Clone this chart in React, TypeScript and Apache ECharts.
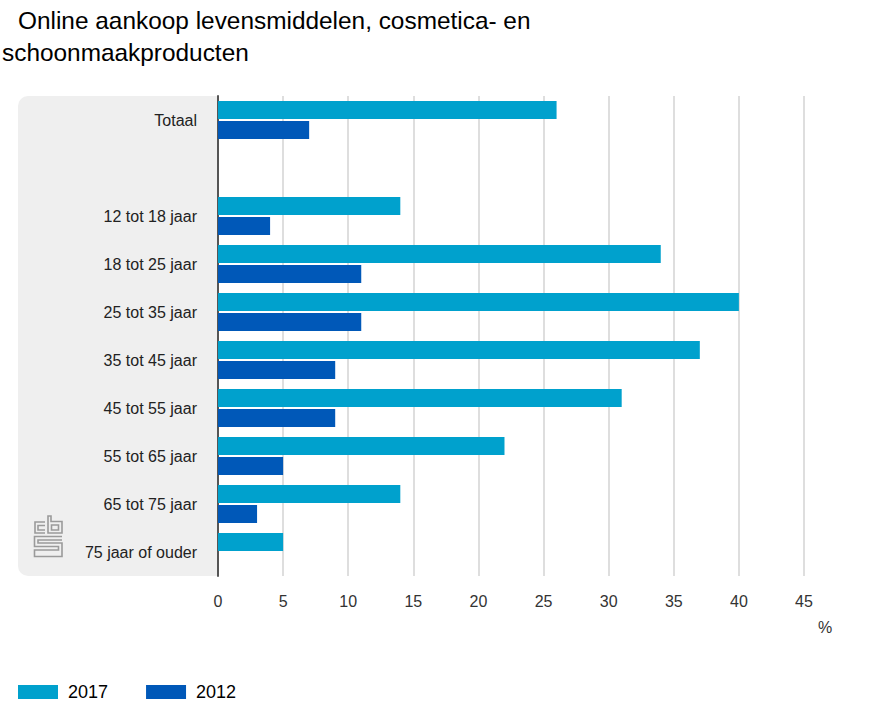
import React, { useEffect, useRef } from "react";
import * as echarts from "echarts";

const categories = [
  "Totaal",
  "",
  "12 tot 18 jaar",
  "18 tot 25 jaar",
  "25 tot 35 jaar",
  "35 tot 45 jaar",
  "45 tot 55 jaar",
  "55 tot 65 jaar",
  "65 tot 75 jaar",
  "75 jaar of ouder",
];
const values2017 = [26, null, 14, 34, 40, 37, 31, 22, 14, 5];
const values2012 = [7, null, 4, 11, 11, 9, 9, 5, 3, null];
const xTicks = { min: 0, max: 45, interval: 5 };

const logoD =
  "M45 522 H35 V533 H45 M45 525.5 H38 V530 H45 " +
  "M48 516 V533 H62 V521.5 H51 V516 Z M51.5 525 H58.5 V530 H51.5 Z " +
  "M62 536.5 H34.5 V546.5 H58.5 V550 H34.5 V556.5 H62 V543 H38 V540 H62";

let registered = false;

export default function App() {
  const ref = useRef<HTMLDivElement>(null);
  useEffect(() => {
    if (!registered) {
      echarts.graphic.registerShape("logo", echarts.graphic.extendPath(logoD, {}) as any);
      registered = true;
    }
    const chart = echarts.init(ref.current!, null, { renderer: "svg" });
    const font = "Arial, 'Liberation Sans', sans-serif";
    chart.setOption({
      animation: false,
      textStyle: { fontFamily: font },
      grid: { left: 218, right: 66, top: 96, height: 480, containLabel: false },
      legend: {
        left: 18,
        top: 683,
        padding: 0,
        itemWidth: 40,
        itemHeight: 14,
        itemGap: 38,
        icon: "rect",
        textStyle: { fontSize: 18, color: "#000", padding: [0, 0, 0, 5], fontFamily: font },
        data: ["2017", "2012"],
      },
      xAxis: {
        type: "value",
        min: xTicks.min,
        max: xTicks.max,
        interval: xTicks.interval,
        axisLine: { show: false },
        axisTick: { show: false },
        splitLine: { show: true, lineStyle: { color: "#dedede", width: 2 } },
        axisLabel: { color: "#333", fontSize: 16, margin: 17, fontFamily: font },
      },
      yAxis: {
        type: "category",
        inverse: true,
        data: categories,
        axisLine: { show: true, lineStyle: { color: "#555", width: 2 } },
        axisTick: { show: false },
        axisLabel: { color: "#222", fontSize: 16, margin: 21, fontFamily: font },
      },
      series: [
        {
          name: "2017",
          type: "bar",
          data: values2017,
          barWidth: 18,
          barGap: "11%",
          itemStyle: { color: "#00a1cd" },
        },
        {
          name: "2012",
          type: "bar",
          data: values2012,
          barWidth: 18,
          barGap: "11%",
          itemStyle: { color: "#0058b8" },
        },
      ],
      graphic: [
        {
          type: "rect",
          z: -10,
          silent: true,
          shape: { x: 18, y: 96, width: 200, height: 480, r: [10, 0, 0, 10] },
          style: { fill: "#efefef" },
        },
        {
          type: "logo",
          z: 10,
          x: 0,
          y: 0,
          style: { fill: null, stroke: "#9a9a9a", lineWidth: 1.6 },
        },
        {
          type: "text",
          x: 18,
          y: 8,
          style: { text: "Online aankoop levensmiddelen, cosmetica- en", fontSize: 24.4, fill: "#000", fontFamily: font },
        },
        {
          type: "text",
          x: 2,
          y: 40,
          style: { text: "schoonmaakproducten", fontSize: 24.4, fill: "#000", fontFamily: font },
        },
        {
          type: "text",
          x: 818,
          y: 619,
          style: { text: "%", fontSize: 16, fill: "#333", fontFamily: font },
        },
      ],
    });
    return () => chart.dispose();
  }, []);
  return <div ref={ref} style={{ width: 870, height: 726, position: "absolute", left: 0, top: 0 }} />;
}
